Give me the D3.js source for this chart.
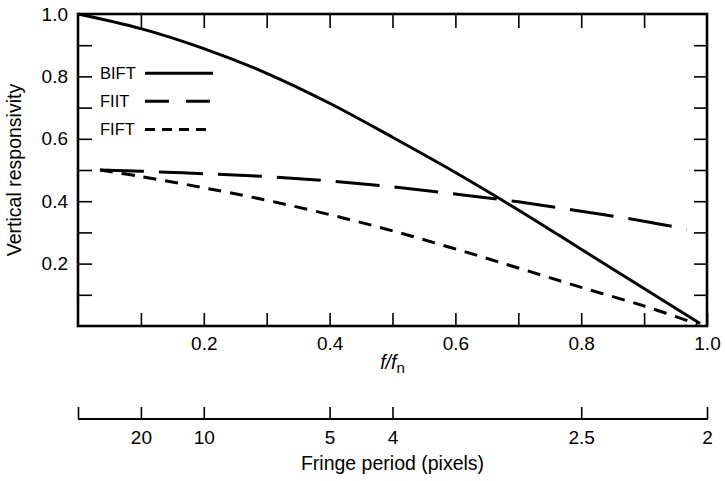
<!DOCTYPE html>
<html lang="en">
<head>
<meta charset="UTF-8">
<title>Vertical responsivity</title>
<script src="https://d3js.org/d3.v7.min.js"></script>
<style>
    body { margin: 0; background: #fff; }
    svg text { font-family: "Liberation Sans", Arial, sans-serif; font-size: 19.5px; fill: #000; }
    .axis path.domain { display: none; }
    .axis line { stroke: #000; stroke-width: 1.6; }
    .curve { fill: none; stroke: #000; stroke-width: 3; }
</style>
</head>
<body>
<svg id="chart"></svg>
<script>
// f/fn values and responsivity
const biftX = [0, 0.1, 0.2, 0.3, 0.4, 0.5, 0.6, 0.7, 0.8, 0.9, 0.989];
const biftY = [1.0, 0.953, 0.889, 0.81, 0.714, 0.605, 0.492, 0.372, 0.246, 0.12, 0.008];

const fiitX = [0.035, 0.1, 0.2, 0.3, 0.4, 0.5, 0.6, 0.7, 0.8, 0.9, 0.968];
const fiitY = [0.5, 0.496, 0.488, 0.479, 0.465, 0.446, 0.423, 0.398, 0.368, 0.336, 0.31];

const fiftX = [0.035, 0.1, 0.2, 0.3, 0.4, 0.5, 0.6, 0.7, 0.8, 0.9, 0.985];
const fiftY = [0.5, 0.479, 0.443, 0.403, 0.357, 0.305, 0.247, 0.186, 0.124, 0.064, 0.006];

const seriesNames = ["BIFT", "FIIT", "FIFT"];
const xTicks = [0.1, 0.2, 0.3, 0.4, 0.5, 0.6, 0.7, 0.8, 0.9, 1.0];
const yTicks = [0.1, 0.2, 0.3, 0.4, 0.5, 0.6, 0.7, 0.8, 0.9, 1.0];
const fringePeriods = [Infinity, 20, 10, 5, 4, 2.5, 2];
const fringeLabels = ["", "20", "10", "5", "4", "2.5", "2"];

const width = 725, height = 481;
const mLeft = 78, mRight = 707, mTop = 14, mBottom = 326;

const svg = d3.select("#chart").attr("width", width).attr("height", height);

const x = d3.scaleLinear().domain([0, 1]).range([mLeft, mRight]);
const y = d3.scaleLinear().domain([0, 1]).range([mBottom, mTop]);

const even = d => Math.abs(Math.round(d * 10) % 2) === 0;

// bottom axis, ticks inward
svg.append("g").attr("class", "axis")
    .attr("transform", `translate(0,${mBottom})`)
    .call(d3.axisBottom(x).tickValues(xTicks).tickSize(-13).tickSizeOuter(0).tickPadding(11)
        .tickFormat(d => even(d) ? d.toFixed(1) : ""));

svg.append("g").attr("class", "axis")
    .attr("transform", `translate(0,${mTop})`)
    .call(d3.axisTop(x).tickValues(xTicks.slice(0, 9)).tickSize(-14).tickSizeOuter(0).tickFormat(""));

svg.append("g").attr("class", "axis")
    .attr("transform", `translate(${mLeft},0)`)
    .call(d3.axisLeft(y).tickValues(yTicks).tickSize(-14).tickSizeOuter(0).tickPadding(10)
        .tickFormat(d => even(d) ? d.toFixed(1) : ""));

svg.append("g").attr("class", "axis")
    .attr("transform", `translate(${mRight},0)`)
    .call(d3.axisRight(y).tickValues(yTicks.slice(0, 9)).tickSize(-13).tickSizeOuter(0).tickFormat(""));

// frame
svg.append("rect")
    .attr("x", mLeft).attr("y", mTop)
    .attr("width", mRight - mLeft).attr("height", mBottom - mTop)
    .attr("fill", "none").attr("stroke", "#000").attr("stroke-width", 2.6);

// x label f/fn
const xl = svg.append("text")
    .attr("x", x(0.5)).attr("y", 369)
    .attr("text-anchor", "middle");
xl.append("tspan").style("font-style", "italic").text("f/f");
xl.append("tspan").attr("dy", 4).style("font-size", "15px").text("n");

svg.append("text")
    .attr("transform", `translate(21,${(mTop + mBottom) / 2}) rotate(-90)`)
    .attr("text-anchor", "middle")
    .text("Vertical responsivity");

// secondary axis: fringe period = 2 / (f/fn)
const fringeY = 419;
svg.append("g").attr("class", "axis")
    .attr("transform", `translate(0,${fringeY})`)
    .call(d3.axisBottom(x).tickValues(fringePeriods.map(p => 2 / p))
        .tickSize(-12).tickSizeOuter(0).tickPadding(12)
        .tickFormat((d, i) => fringeLabels[i]));
svg.append("line")
    .attr("x1", mLeft).attr("x2", mRight + 1)
    .attr("y1", fringeY).attr("y2", fringeY)
    .attr("stroke", "#000").attr("stroke-width", 2.2);

svg.selectAll(".axis text").style("font-size", "19px");

svg.append("text")
    .attr("x", x(0.5)).attr("y", 470)
    .attr("text-anchor", "middle")
    .text("Fringe period (pixels)");

// curves
const line = d3.line()
    .x(d => x(d[0]))
    .y(d => y(d[1]))
    .curve(d3.curveCatmullRom.alpha(0.5));

const series = [
    { name: "BIFT", pts: d3.zip(biftX, biftY), dash: null, legendDash: null },
    { name: "FIIT", pts: d3.zip(fiitX, fiitY), dash: "44,15", legendDash: "24,17" },
    { name: "FIFT", pts: d3.zip(fiftX, fiftY), dash: "13,9", legendDash: "10,7" }
];

svg.selectAll("path.curve")
    .data(series)
    .join("path")
    .attr("class", "curve")
    .attr("d", d => line(d.pts))
    .attr("stroke-dasharray", d => d.dash);

// legend
const legendY = d3.scaleOrdinal().domain(seriesNames).range([0.81, 0.72, 0.63]);
const leg = svg.selectAll("g.legend")
    .data(series)
    .join("g")
    .attr("class", "legend")
    .attr("transform", d => `translate(0,${y(legendY(d.name))})`);
leg.append("text")
    .attr("x", 100).attr("dy", "0.36em")
    .style("font-size", "16.5px")
    .text(d => d.name);
leg.append("line")
    .attr("x1", 145).attr("x2", 213)
    .attr("stroke", "#000").attr("stroke-width", 3)
    .attr("stroke-dasharray", d => d.legendDash);
</script>
</body>
</html>
